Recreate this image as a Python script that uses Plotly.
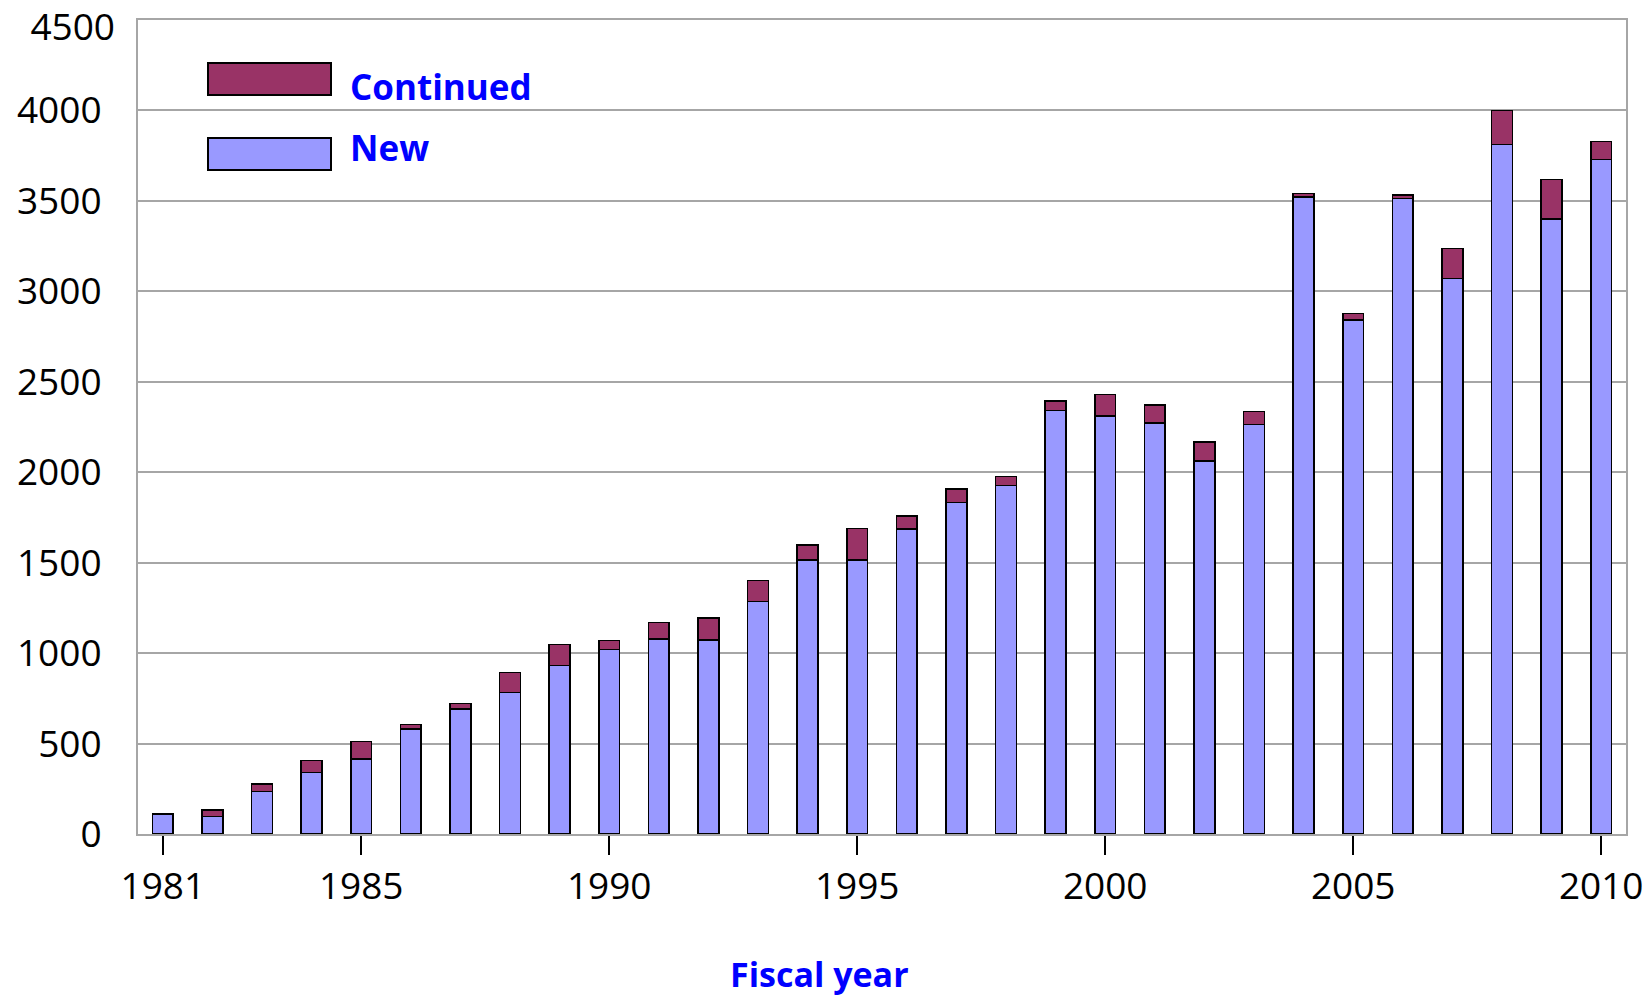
import plotly.graph_objects as go

years = list(range(1981, 2011))
new = [110, 98, 235, 340, 415, 580, 692, 781, 931, 1019,
       1078, 1073, 1285, 1516, 1516, 1687, 1834, 1928, 2340, 2311,
       2271, 2063, 2265, 3522, 2841, 3512, 3071, 3813, 3400, 3730]
continued = [0, 36, 42, 66, 96, 24, 30, 113, 116, 50,
             90, 120, 116, 83, 173, 72, 72, 48, 54, 118,
             101, 103, 70, 20, 37, 20, 165, 187, 217, 99]
xtick_years = [1981, 1985, 1990, 1995, 2000, 2005, 2010]
ytick_vals = list(range(0, 4001, 500))
ytick_top = [4500]
y_max = 4500

C_NEW = "#9999FF"
C_CONT = "#993366"
FONT = "Open Sans"
GRID = "#A6A6A6"

TOP, BOTTOM, LEFT, RIGHT = 20, 834, 138, 1626
PW, PH = RIGHT - LEFT, BOTTOM - TOP

fig = go.Figure()
fig.add_trace(go.Bar(x=years, y=new, name="New", width=0.42,
                     marker=dict(color=C_NEW, line=dict(color="black", width=1.5)),
                     showlegend=False))
fig.add_trace(go.Bar(x=years, y=continued, name="Continued", width=0.42,
                     marker=dict(color=C_CONT, line=dict(color="black", width=1.5)),
                     showlegend=False))
# empty trace so the helper axis (top tick label) is rendered
fig.add_trace(go.Scatter(x=[None], y=[None], yaxis="y2", showlegend=False,
                         hoverinfo="skip", mode="markers"))

fig.update_layout(
    barmode="stack",
    width=1650, height=998,
    margin=dict(l=LEFT, r=1650 - RIGHT, t=TOP, b=998 - BOTTOM, autoexpand=False),
    paper_bgcolor="white", plot_bgcolor="white",
    font=dict(family=FONT, color="black"),
    xaxis=dict(range=[1980.5, 2010.5], tickvals=xtick_years,
               ticktext=[str(y) for y in xtick_years],
               ticks="outside", ticklen=19, tickwidth=1.5, tickcolor="black",
               tickfont=dict(size=37, family=FONT, color="black"),
               ticklabeloverflow="allow",
               showline=True, linecolor=GRID, linewidth=2, mirror=True,
               showgrid=False, zeroline=False, automargin=False),
    yaxis=dict(range=[0, y_max], tickvals=ytick_vals,
               ticks="", tickfont=dict(size=37, family=FONT, color="black"),
               ticklabelstandoff=27, ticklabeloverflow="allow",
               showline=True, linecolor=GRID, linewidth=2, mirror=True,
               showgrid=True, gridcolor=GRID, gridwidth=1.5,
               zeroline=False, automargin=False),
    yaxis2=dict(range=[0, y_max], tickvals=ytick_top, overlaying="y", side="left",
                ticks="", tickfont=dict(size=37, family=FONT, color="black"),
                ticklabelstandoff=22, ticklabelshift=7, ticklabeloverflow="allow",
                showline=False, showgrid=False, zeroline=False, automargin=False),
)

def px_x(x):
    return (x - LEFT) / PW

def px_y(y):
    return 1 - (y - TOP) / PH

# Legend drawn manually (large swatches as in the reference)
legend_items = [("Continued", C_CONT, 63, 95, 86), ("New", C_NEW, 138, 170, 147)]
for label, col, y0, y1, ty in legend_items:
    fig.add_shape(type="rect", xref="paper", yref="paper",
                  x0=px_x(208), x1=px_x(331), y0=px_y(y1), y1=px_y(y0),
                  fillcolor=col, line=dict(color="black", width=2))
    fig.add_annotation(text="<b>" + label + "</b>", xref="paper", yref="paper",
                       x=px_x(348), y=px_y(ty),
                       xanchor="left", yanchor="middle", showarrow=False,
                       font=dict(size=35, family=FONT, color="#0000FF"))

fig.add_annotation(text="<b>Fiscal year</b>", xref="paper", yref="paper",
                   x=px_x(819), y=px_y(974),
                   xanchor="center", yanchor="middle", showarrow=False,
                   font=dict(size=34, family=FONT, color="#0000FF"))

fig.write_html("out.html")
